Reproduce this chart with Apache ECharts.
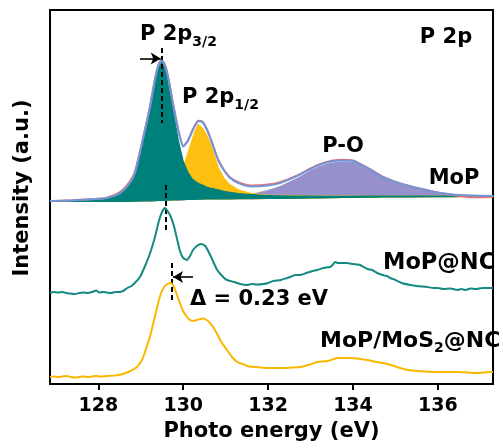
<!DOCTYPE html>
<html><head><meta charset="utf-8">
<script src="https://cdn.jsdelivr.net/npm/echarts@6/dist/echarts.min.js"></script>
<style>html,body{margin:0;padding:0;background:#fff}#c{width:503px;height:448px}</style>
</head><body><div id="c"></div>
<script>
// ---------- data ----------
const xTicks = [128, 130, 132, 134, 136];

// MoP (top panel): fitted components, heights above the background
const topEnergy = [126.86,127.4,127.9,128.2,128.5,128.7,128.86,129.05,129.22,129.34,129.42,129.49,129.56,129.64,129.75,129.88,130.0,130.1,130.2,130.28,130.35,130.45,130.55,130.63,130.72,130.82,130.95,131.1,131.3,131.6,132.0,132.3,132.7,133.0,133.2,133.5,133.75,134.0,134.3,134.5,134.7,135.0,135.35,135.9,136.3,136.8,137.3];
const topBackground = [182.5,182.5,182.5,182.5,182.6,182.7,182.8,183,183.2,183.4,183.5,183.6,183.7,183.8,184,184.2,184.4,184.5,184.6,184.7,184.8,184.9,185,185,185.1,185.1,185.2,185.2,185.3,185.4,185.5,185.6,185.8,186,186.1,186.3,186.5,186.6,186.8,186.9,187,187.1,187.2,187.3,187.4,187.5,187.5];
const p32Fit = [0.5,1,2,3,7,15,27,60,93,120,133,138,133,120,93,60,38,28,21,18,16,14,12,11,10,9,7.5,6.5,5,4,3,2.5,2,1.8,1.6,1.4,1.2,1.1,1,0.9,0.8,0.7,0.6,0.5,0.4,0.3,0.3];
const p12Fit = [0,0.2,0.4,0.6,0.8,1,1.2,1.6,2.2,3,3.5,4,5,6.5,10,18,32,45,58,68,75,71,64,56,45,32,21,14,9,5,3.5,3,2.5,2,1.8,1.5,1.3,1.2,1,0.9,0.8,0.7,0.6,0.5,0.4,0.3,0.3];
const poFit = [0,0,0,0,0,0,0,0,0,0,0,0,0,0,0,0,0,0,0,0,0,0.1,0.2,0.2,0.3,0.4,0.5,0.8,1.5,4,8,12,20,27,31,34.5,35.5,35,29,24,19,14,9.5,4.5,2,0.6,0.1];
const envelopeFit = [0.5,1.2,2.4,3.6,8,16,28,62,95,123,136,140,136,124,98,70,53,58,67,74,78,77,70,62,51,39,29,21,15.5,12,13,15.5,22.5,29,33,36.5,37,36.5,30,25,20,15,10.5,5,2.4,0.9,0.4];
const mopRaw = [0.3,1.2,2.4,3.8,9,17.5,29.5,62.5,95,123,136,140.5,136.5,124.5,98.5,70.5,53.5,58,67.5,74.5,78.5,77.5,70.5,62,51,39.5,29.5,21.5,16.5,13,14,16.5,23,29.5,33.5,37,37.8,37,30.5,25.5,20.3,15,10.5,5,2,-0.8,-0.6];

// MoP@NC
const ncEnergy = [126.86,126.95,127.05,127.15,127.25,127.35,127.45,127.55,127.65,127.75,127.85,127.95,128.02,128.1,128.2,128.3,128.4,128.5,128.58,128.68,128.78,128.88,128.98,129.1,129.22,129.34,129.42,129.5,129.57,129.63,129.7,129.78,129.86,129.93,130.0,130.09,130.16,130.23,130.32,130.42,130.52,130.6,130.7,130.8,130.94,131.03,131.2,131.34,131.5,131.62,131.74,131.9,132.0,132.12,132.3,132.45,132.52,132.65,132.76,132.9,133.05,133.16,133.3,133.46,133.52,133.58,133.65,133.75,133.86,134.0,134.1,134.17,134.25,134.34,134.45,134.57,134.7,134.8,134.88,135.0,135.15,135.35,135.5,135.75,135.9,136.0,136.13,136.3,136.46,136.55,136.65,136.77,136.9,137.05,137.24,137.3];
const ncIntensity = [91,92,91.5,92,91,90.5,90,91,91.5,91,92,93.5,91.5,92,91.5,91,92,92,93,96,98,102,107,118,131,148,162,172,176,173,168,158,144,132,126,124,128,134,138,140,138,132,123,114,107,104,102,100,99,100,99.5,100,101,103,104,106,107,109,109,111,113,114,116,117,119,122,121,121,121,120,119.5,119,117,115,114,111,109,108,106,104,101,99,98,97,96,96,95,95.5,94,95,94,95.5,95,96,96,96];

// MoP/MoS2@NC
const mosEnergy = [126.86,126.95,127.05,127.15,127.25,127.35,127.45,127.55,127.65,127.75,127.85,127.95,128.05,128.2,128.35,128.48,128.58,128.7,128.8,128.91,129.0,129.05,129.13,129.22,129.3,129.38,129.47,129.55,129.63,129.71,129.78,129.86,129.93,130.01,130.09,130.16,130.23,130.32,130.4,130.47,130.55,130.63,130.72,130.8,130.9,131.03,131.15,131.27,131.4,131.51,131.7,131.98,132.2,132.36,132.55,132.76,132.95,133.16,133.4,133.55,133.63,133.8,133.94,134.1,134.34,134.5,134.71,134.9,135.11,135.3,135.52,135.75,135.99,136.2,136.46,136.7,136.93,137.1,137.24,137.3];
const mosIntensity = [7,7.5,7,7.5,8,7,6.5,7,7.5,7,7.5,8,7.5,8,8.5,9,10,12,14,17,22,26,36,48,62,76,90,97,100,101,97,88,80,72,67,64,63,64,65,65.5,64,61,56,50,42,34,27,22,20,18,17,16,16,16,16.5,17,19,22,23,25,26,26,26,25.5,24,22.5,21,19,16,14,13,12.5,12,12,12,11.5,11,11.5,12,12];

// annotation anchors (eV, intensity)
const mopPeakLine = [[129.50, 336], [129.50, 261]];
const mopArrow = [[128.98, 325.5], [129.47, 325.5]];
const ncPeakLine = [[129.59, 199], [129.59, 152]];
const mosPeakLine = [[129.72, 121], [129.72, 82]];
const shiftArrow = [[130.23, 107], [129.76, 107]];

// ---------- chart ----------
const FONT = 'DejaVu Sans';
const C = { teal: '#00807a', yellow: '#fdc010', purple: '#9691cd', env: '#7096d8', raw: '#f07272', ncLine: '#138a80', mosLine: '#f9b800' };

function onBg(h) { return topEnergy.map((x, i) => [x, topBackground[i] + h[i]]); }
function zip(xs, ys) { return xs.map((x, i) => [x, ys[i]]); }
function areaSeries(h, color, z) {
  return {
    type: 'custom', coordinateSystem: 'cartesian2d', z: z, silent: true,
    data: [[topEnergy[0], topBackground[0]]],
    renderItem: function (params, api) {
      const top = topEnergy.map((x, i) => api.coord([x, topBackground[i] + h[i]]));
      const bot = topEnergy.map((x, i) => api.coord([x, topBackground[i]])).reverse();
      return { type: 'polygon', shape: { points: top.concat(bot) }, style: { fill: color, stroke: color, lineWidth: 1.2 } };
    }
  };
}
function seg(pts, opts) {
  return [Object.assign({ coord: pts[0], symbol: opts.s0 || 'none' }, opts.first || {}),
          { coord: pts[1], symbol: opts.s1 || 'none' }];
}
const dashed = { lineStyle: { type: [5, 3], width: 2, color: '#000' } };
const solid = { lineStyle: { type: 'solid', width: 1.6, color: '#000' } };

const txt = (size) => ({ fontSize: size, fontWeight: 'bold', fontFamily: FONT, fill: '#000' });
function label(x, y, text, align, size) {
  return { type: 'text', x: x, y: y, z: 100, silent: true,
    style: Object.assign(txt(size || 21), { text: text, align: align || 'left', verticalAlign: 'middle' }) };
}
function subLabel(x, y, text, size) {
  return { type: 'text', x: x, y: y, z: 100, silent: true,
    style: { text: text, align: 'left', verticalAlign: 'middle',
      rich: {
        m: { fontSize: size || 21, fontWeight: 'bold', fontFamily: FONT, lineHeight: 28, fill: '#000' },
        s: { fontSize: 14, fontWeight: 'bold', fontFamily: FONT, lineHeight: 12, verticalAlign: 'bottom', fill: '#000' }
      } } };
}

const chart = echarts.init(document.getElementById('c'), null, { renderer: 'canvas' });
chart.setOption({
  animation: false,
  backgroundColor: '#fff',
  grid: { left: 50, right: 10, top: 10, bottom: 64, show: true, borderColor: '#000', borderWidth: 2, backgroundColor: 'transparent' },
  xAxis: {
    type: 'value', min: 126.86, max: 137.3,
    axisLine: { show: true, lineStyle: { color: '#000', width: 2 } },
    axisTick: { show: true, length: 6, inside: false, lineStyle: { color: '#000', width: 2 }, customValues: xTicks },
    axisLabel: { show: true, customValues: xTicks, margin: 13, fontSize: 19, fontWeight: 'bold', fontFamily: FONT, color: '#000' },
    splitLine: { show: false },
    name: 'Photo energy (eV)', nameLocation: 'middle', nameGap: 34,
    nameTextStyle: { fontSize: 21, fontWeight: 'bold', fontFamily: FONT, color: '#000' }
  },
  yAxis: {
    type: 'value', min: 0, max: 374,
    axisLine: { show: true, lineStyle: { color: '#000', width: 2 } },
    axisTick: { show: false }, axisLabel: { show: false }, splitLine: { show: false }
  },
  series: [
    areaSeries(poFit, C.purple, 1),
    areaSeries(p12Fit, C.yellow, 2),
    areaSeries(p32Fit, C.teal, 3),
    { type: 'line', z: 4, data: onBg(mopRaw), showSymbol: false, smooth: 0.2, lineStyle: { color: C.raw, width: 2 }, silent: true },
    { type: 'line', z: 5, data: onBg(envelopeFit), showSymbol: false, smooth: 0.2, lineStyle: { color: C.env, width: 2 }, silent: true },
    { type: 'line', z: 6, data: zip(ncEnergy, ncIntensity), showSymbol: false, smooth: 0.2, lineStyle: { color: C.ncLine, width: 2 }, silent: true,
      markLine: { silent: true, animation: false, label: { show: false }, symbolSize: [9, 10],
        data: [
          seg(mopPeakLine, { first: dashed }),
          seg(ncPeakLine, { first: dashed }),
          seg(mosPeakLine, { first: dashed }),
          seg(mopArrow, { first: solid, s1: 'arrow' }),
          seg(shiftArrow, { first: solid, s1: 'arrow' })
        ] } },
    { type: 'line', z: 6, data: zip(mosEnergy, mosIntensity), showSymbol: false, smooth: 0.2, lineStyle: { color: C.mosLine, width: 2 }, silent: true }
  ],
  graphic: [
    { type: 'text', x: 23, y: 188, rotation: Math.PI / 2, z: 100, silent: true,
      style: Object.assign(txt(21), { text: 'Intensity (a.u.)', align: 'center', verticalAlign: 'middle' }) },
    subLabel(140, 35, '{m|P 2p}{s|3/2}'),
    subLabel(182, 98, '{m|P 2p}{s|1/2}'),
    label(343, 147, 'P-O', 'center'),
    label(446, 38, 'P 2p', 'center'),
    label(454, 179, 'MoP', 'center'),
    label(383, 263, 'MoP@NC', 'left', 22.5),
    label(190, 300, 'Δ = 0.23 eV', 'left'),
    subLabel(320, 341, '{m|MoP/MoS}{s|2}{m|@NC}', 22)
  ]
});
</script>
</body></html>
